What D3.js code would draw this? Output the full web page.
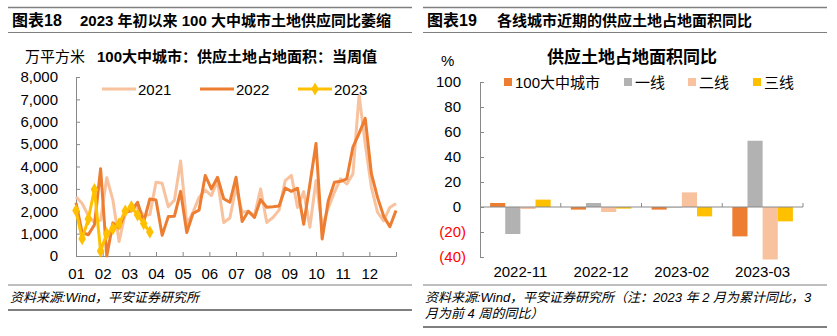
<!DOCTYPE html>
<html><head><meta charset="utf-8">
<script src="https://cdn.jsdelivr.net/npm/d3@7"></script>
<style>
body{margin:0;background:#fff;}
svg{display:block;font-family:"Liberation Sans",Arial,"Noto Sans CJK SC",sans-serif;}
</style></head><body>
<svg id="c" width="837" height="336"></svg>
<script>
// ---------- data: left chart (weekly, 万平方米) ----------
const monthLabels = ["01","02","03","04","05","06","07","08","09","10","11","12"];
const seriesNames = ["2021","2022","2023"];
const v2021 = [2650,2350,1800,1500,1600,3500,2500,650,1900,2100,2200,1800,1850,3300,3250,2200,2500,4250,1420,1950,2620,2950,2700,3370,1500,1700,3070,1950,2000,1800,3000,1500,1720,2050,3370,3600,2170,2880,1280,3370,1300,2150,2850,3450,3220,3670,7200,5000,3070,1950,1570,2170,2350];
const v2022 = [2380,1050,950,1400,3900,0,1480,1250,1950,2020,2400,1520,2550,2500,930,1760,1780,2890,1050,1900,2050,3600,3000,3520,2560,2400,3520,1540,2000,1720,2520,2180,2200,2230,3040,2890,3030,1420,3200,5030,760,2470,3300,3340,3450,4870,5480,6150,3680,2620,1780,1310,2030];
const v2023 = [2030,770,1650,2970,220,1000,1220,1440,2010,2200,1840,1450,1070];
const yTicksL = [0,1000,2000,3000,4000,5000,6000,7000,8000];

// ---------- data: right chart (%) ----------
const categories = ["2022-11","2022-12","2023-02","2023-03"];
const barSeries = ["100大中城市","一线","二线","三线"];
const b100 = [3.2,-2.1,-2.1,-23.5];
const bT1  = [-21.6,3.2,-0.4,53];
const bT2  = [-1.6,-4,11.7,-42];
const bT3  = [5.9,-1.3,-7.5,-11.5];
const yTicksR = [-40,-20,0,20,40,60,80,100];

const svg = d3.select("#c");
const axisCol = "#898989";
const cLight = "#F8C29E", cOrange = "#ED7D31", cGold = "#FFC000", cGray = "#B2B2B2";

// ---------- headers ----------
function header(x0,x1,num,title,tx){
  svg.append("line").attr("x1",x0).attr("x2",x1).attr("y1",7.5).attr("y2",7.5).attr("stroke","#7f7f7f").attr("stroke-width",1.5);
  svg.append("line").attr("x1",x0).attr("x2",x1).attr("y1",32.5).attr("y2",32.5).attr("stroke","#7f7f7f").attr("stroke-width",1);
  svg.append("text").attr("x",x0+4).attr("y",26).attr("font-size",16).attr("font-weight","bold").text(num);
  svg.append("text").attr("x",tx).attr("y",26).attr("font-size",15).attr("font-weight","bold").text(title);
}
header(8,412,"图表18","2023 年初以来 100 大中城市土地供应同比萎缩",80);
header(423,827,"图表19","各线城市近期的供应土地占地面积同比",497);

// ---------- footers ----------
function footer(x0,x1,lines,bottom){
  svg.append("line").attr("x1",x0).attr("x2",x1).attr("y1",285).attr("y2",285).attr("stroke","#7f7f7f").attr("stroke-width",1.2);
  lines.forEach((t,i)=>svg.append("text").attr("x",x0+2).attr("y",302+i*16).attr("font-size",13).attr("font-style","italic").text(t));
  svg.append("line").attr("x1",x0).attr("x2",x1).attr("y1",bottom).attr("y2",bottom).attr("stroke","#7f7f7f").attr("stroke-width",2);
}
footer(8,412,["资料来源:Wind，平安证券研究所"],310);
footer(423,827,["资料来源:Wind，平安证券研究所（注：2023 年 2 月为累计同比，3","月为前 4 周的同比）"],327);

// ---------- left chart ----------
const xL = d3.scaleLinear().domain([0,52]).range([76,396]);
const yL = d3.scaleLinear().domain([0,8000]).range([256,77]);

svg.append("text").attr("x",25).attr("y",62).attr("font-size",15).text("万平方米");
svg.append("text").attr("x",97).attr("y",62).attr("font-size",15).attr("font-weight","bold").text("100大中城市：供应土地占地面积：当周值");

const gyL = svg.append("g").attr("transform","translate(76,0)")
  .call(d3.axisLeft(yL).tickValues(yTicksL).tickSize(-4).tickPadding(18).tickFormat(d3.format(",")));
gyL.select(".domain").attr("stroke",axisCol);
gyL.selectAll(".tick line").attr("stroke",axisCol);
gyL.selectAll("text").attr("font-size",15).attr("fill","#000").attr("font-family",null);

const monthPos = d3.range(13).map(i=>i*52/12);
const gxL = svg.append("g").attr("transform","translate(0,256)")
  .call(d3.axisBottom(xL).tickValues(monthPos).tickSize(-4).tickPadding(12).tickFormat((d,i)=>monthLabels[i]||""));
gxL.select(".domain").attr("stroke",axisCol);
gxL.selectAll(".tick line").attr("stroke",axisCol);
gxL.selectAll("text").attr("font-size",15).attr("fill","#000").attr("font-family",null);

const line = d3.line().x((d,i)=>xL(i)).y(d=>yL(d));
svg.append("path").datum(v2021).attr("d",line).attr("fill","none").attr("stroke",cLight).attr("stroke-width",3).attr("stroke-linejoin","round");
svg.append("path").datum(v2022).attr("d",line).attr("fill","none").attr("stroke",cOrange).attr("stroke-width",3).attr("stroke-linejoin","round");
svg.append("path").datum(v2023).attr("d",line).attr("fill","none").attr("stroke",cGold).attr("stroke-width",3).attr("stroke-linejoin","round");
const diamond = d3.symbol().type(d3.symbolDiamond).size(50);
svg.selectAll(".m23").data(v2023).enter().append("path")
  .attr("transform",(d,i)=>`translate(${xL(i)},${yL(d)})`).attr("d",diamond).attr("fill",cGold);

// left legend
const legL = [{n:seriesNames[0],c:cLight,x:102},{n:seriesNames[1],c:cOrange,x:200},{n:seriesNames[2],c:cGold,x:298}];
legL.forEach((d,i)=>{
  svg.append("line").attr("x1",d.x).attr("x2",d.x+34).attr("y1",89).attr("y2",89).attr("stroke",d.c).attr("stroke-width",3);
  if(i===2) svg.append("path").attr("transform",`translate(${d.x+17},89)`).attr("d",diamond).attr("fill",d.c);
  svg.append("text").attr("x",d.x+36).attr("y",94.5).attr("font-size",15).text(d.n);
});

// ---------- right chart ----------
const yR = d3.scaleLinear().domain([-40,100]).range([257,82]);
const x0 = d3.scaleBand().domain(categories).range([480,803]).paddingInner(0.25).paddingOuter(0.125);
const x1 = d3.scaleBand().domain(barSeries).range([0,x0.bandwidth()]);
const colsR = [cOrange,cGray,cLight,cGold];
const seriesVals = [b100,bT1,bT2,bT3];

svg.append("text").attr("x",632).attr("y",63).attr("text-anchor","middle").attr("font-size",17).attr("font-weight","bold").text("供应土地占地面积同比");
svg.append("text").attr("x",441).attr("y",66).attr("font-size",15).text("%");

const gyR = svg.append("g").attr("transform","translate(480,0)")
  .call(d3.axisLeft(yR).tickValues(yTicksR).tickSize(-4).tickPadding(14).tickFormat(d=>d<0?`(${-d})`:d));
gyR.select(".domain").attr("stroke",axisCol);
gyR.selectAll(".tick line").attr("stroke",axisCol);
gyR.selectAll("text").attr("font-size",15).attr("font-family",null)
  .attr("fill",d=>d<0?"#FF0000":"#000").attr("dx",d=>d<0?0:-5);

seriesVals.forEach((vals,si)=>{
  svg.selectAll(".b"+si).data(vals).enter().append("rect")
    .attr("x",(d,i)=>x0(categories[i])+x1(barSeries[si]))
    .attr("width",x1.bandwidth())
    .attr("y",d=>yR(Math.max(0,d)))
    .attr("height",d=>Math.abs(yR(d)-yR(0)))
    .attr("fill",colsR[si]);
});

// zero axis with category-boundary ticks
const y0 = yR(0);
svg.append("line").attr("x1",480).attr("x2",803).attr("y1",y0).attr("y2",y0).attr("stroke",axisCol);
const bounds = categories.map(c=>x0(c)+x0.bandwidth()+x0.step()*0.125);
bounds.forEach(b=>svg.append("line").attr("x1",b).attr("x2",b).attr("y1",y0-4).attr("y2",y0).attr("stroke",axisCol));
categories.forEach(c=>svg.append("text").attr("x",x0(c)+x0.bandwidth()/2).attr("y",277).attr("text-anchor","middle").attr("font-size",15).text(c));

// right legend
const legR = [{x:504},{x:624},{x:688},{x:753}];
barSeries.forEach((n,i)=>{
  svg.append("rect").attr("x",legR[i].x).attr("y",78).attr("width",8).attr("height",8).attr("fill",colsR[i]);
  svg.append("text").attr("x",legR[i].x+11).attr("y",87.5).attr("font-size",15).text(n);
});
</script>
</body></html>
